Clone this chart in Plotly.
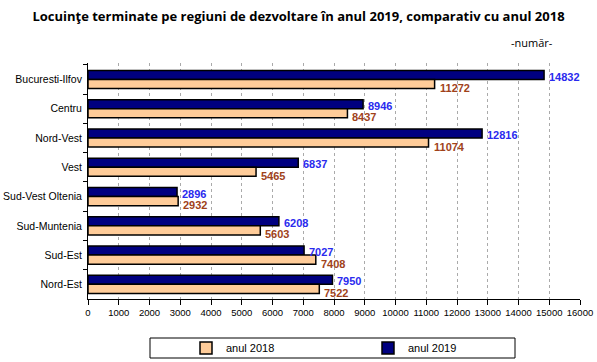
import plotly.graph_objects as go

regions = ["Bucuresti-Ilfov", "Centru", "Nord-Vest", "Vest", "Sud-Vest Oltenia",
           "Sud-Muntenia", "Sud-Est", "Nord-Est"]
val_2019 = [14832, 8946, 12816, 6837, 2896, 6208, 7027, 7950]
val_2018 = [11272, 8437, 11074, 5465, 2932, 5603, 7408, 7522]
x_ticks = list(range(0, 16001, 1000))

fig = go.Figure()
fig.add_trace(go.Bar(
    y=regions, x=val_2019, orientation="h", name="anul 2019",
    marker=dict(color="#000080", line=dict(color="black", width=1.5)),
    legend="legend2",
))
fig.add_trace(go.Bar(
    y=regions, x=val_2018, orientation="h", name="anul 2018",
    marker=dict(color="#FFCC99", line=dict(color="black", width=1.5)),
    legend="legend",
))

annotations = []
for r, v in zip(regions, val_2019):
    annotations.append(dict(x=v, y=r, xref="x", yref="y", text=str(v), showarrow=False,
                            xanchor="left", yanchor="middle", xshift=3, yshift=3,
                            font=dict(family="Arial", size=11, color="#2a2aee", weight="bold")))
for r, v in zip(regions, val_2018):
    annotations.append(dict(x=v, y=r, xref="x", yref="y", text=str(v), showarrow=False,
                            xanchor="left", yanchor="middle", xshift=3, yshift=-8.5,
                            font=dict(family="Arial", size=11, color="#a0421a", weight="bold")))
annotations.append(dict(text="-număr-", xref="paper", yref="paper", x=1.0, y=1.0,
                        xanchor="right", yanchor="bottom", yshift=11, xshift=-25, showarrow=False,
                        font=dict(family="Open Sans", size=11, color="black")))

leg_common = dict(orientation="h", xanchor="left", xref="container", yref="container",
                  y=(362 - 348) / 362, yanchor="middle",
                  font=dict(family="Arial", size=11, color="black"),
                  bgcolor="rgba(0,0,0,0)", borderwidth=0)

fig.update_layout(
    width=597, height=362,
    paper_bgcolor="white", plot_bgcolor="white",
    margin=dict(l=88, r=17, t=63, b=63),
    barmode="group", bargap=0.38, bargroupgap=0,
    title=dict(text="Locuinţe terminate pe regiuni de dezvoltare în anul 2019, comparativ cu anul 2018",
               x=0.5, xanchor="center", y=0.955, yanchor="middle",
               font=dict(family="Open Sans", size=13, color="black", weight="bold")),
    xaxis=dict(range=[0, 16000], tickvals=x_ticks, tickformat="d", showgrid=True,
               gridcolor="#aaaaaa", griddash="dot", gridwidth=1,
               showline=True, linecolor="black", linewidth=1,
               ticks="outside", ticklen=5, tickcolor="black", automargin=False,
               tickfont=dict(family="Arial", size=9.5, color="black"), zeroline=False),
    yaxis=dict(autorange="reversed", showline=True, linecolor="black", linewidth=1,
               ticks="outside", ticklen=4, tickcolor="black", tickson="boundaries",
               automargin=False, ticklabelstandoff=3,
               tickfont=dict(family="Arial", size=10.5, color="black"), showgrid=False),
    showlegend=True,
    legend=dict(x=186 / 597, **leg_common),
    legend2=dict(x=368 / 597, **leg_common),
    annotations=annotations,
    shapes=[dict(type="rect", xref="paper", yref="paper",
                 x0=(150 - 88) / 492, x1=(515 - 88) / 492,
                 y0=-(358 - 299) / 236, y1=-(338 - 299) / 236,
                 line=dict(color="black", width=1))],
)

fig.write_html("out.html", config={"displayModeBar": False},
               post_script="document.body.style.margin='0';")
